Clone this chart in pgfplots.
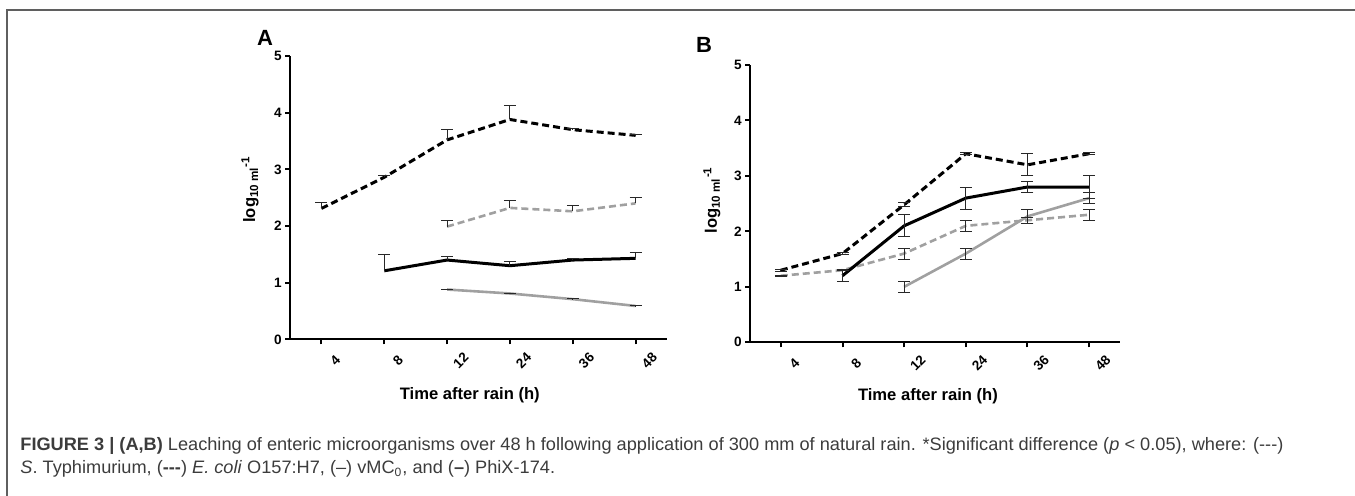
\documentclass[border=0pt]{standalone}
\usepackage{fontspec}
\setmainfont{Liberation Sans}
\usepackage{graphicx}
\usepackage{pgfplots}
\pgfplotsset{compat=1.18}
\definecolor{lgray}{RGB}{160,160,160}
\definecolor{capcol}{RGB}{60,60,60}
\definecolor{framecol}{RGB}{95,95,95}
\definecolor{ebcol}{RGB}{40,40,40}
\newcommand\capfont{\fontsize{9}{10}\selectfont}
\newcommand\lineone{\textbf{FIGURE 3 | (A,B)} Leaching of enteric microorganisms over 48 h following application of 300 mm of natural rain. *Significant difference (\textit{p} < 0.05), where: (-{}-{}-)}
\newcommand\linetwo{\textit{S}. Typhimurium, (\textbf{-{}-{}-}) \textit{E. coli} O157:H7, (--) vMC\textsubscript{0}, and (\textbf{--}) PhiX-174.}
\newlength\capw
\pgfplotsset{
  panel/.style={
    scale only axis,
    axis x line=bottom, axis y line=left,
    axis line style={-, line width=1pt},
    xmin=-0.5, xmax=5.5, ymin=0, ymax=5,
    xtick={0,1,2,3,4,5}, xticklabels={4,8,12,24,36,48},
    ytick={0,1,2,3,4,5},
    tick align=outside, major tick length=2.5pt,
    tick style={line width=1pt, black},
    ticklabel style={font=\bfseries\fontsize{6.8}{7}\selectfont},
    yticklabel style={inner sep=1.5pt},
    /pgf/number format/assume math mode=true,
    xticklabel style={rotate=45, anchor=center, yshift=-10.5pt, xshift=-0.8pt},
    label style={font=\bfseries\fontsize{8.3}{9}\selectfont},
    xlabel={Time after rain (h)},
    ylabel={log\textsubscript{10 ml}\textsuperscript{-1}},
    clip=false,
  },
  bk/.style={black, line width=1.5pt, mark=none},
  bkd/.style={black, line width=1.5pt, mark=none, dash pattern=on 3.5pt off 2pt},
  gy/.style={lgray, line width=1.3pt, mark=none},
  gyd/.style={lgray, line width=1.3pt, mark=none, dash pattern=on 3.5pt off 2pt},
  ebA/.style={error bars/.cd, y dir=plus, y explicit,
    error bar style={line width=0.5pt, ebcol, solid},
    error mark options={rotate=90, mark size=3pt, line width=0.5pt, ebcol, solid}},
  ebB/.style={error bars/.cd, y dir=both, y explicit,
    error bar style={line width=0.5pt, ebcol, solid},
    error mark options={rotate=90, mark size=3pt, line width=0.5pt, ebcol, solid}},
}
\begin{document}%
\settowidth{\capw}{\capfont\lineone}%
\pgfmathsetmacro\capsx{631.5/\capw}%
\begin{tikzpicture}
\useasboundingbox (0,0) rectangle (677.5pt,248pt);
\draw[framecol, line width=1pt] (3.5pt,0pt) -- (3.5pt,243pt) -- (677.5pt,243pt);
\node[font=\bfseries\fontsize{11}{12}\selectfont] at (132.5pt,229.15pt) {A};
\node[font=\bfseries\fontsize{11}{12}\selectfont] at (352pt,225.5pt) {B};
\node[anchor=base west, inner sep=0pt, text=capcol] at (10pt,22.5pt) {\capfont\scalebox{\capsx}[1]{\lineone}};
\node[anchor=base west, inner sep=0pt, text=capcol] at (10pt,11pt) {\capfont\scalebox{\capsx}[1]{\linetwo}};

\begin{axis}[panel, at={(145pt,78.3pt)}, anchor=south west, width=188.5pt, height=141.7pt,
  xlabel style={at={(axis description cs:0.477,-0.196)}, anchor=center},
  ylabel style={at={(axis description cs:-0.106,0.53)}, anchor=center}]
\addplot[gy, ebA] coordinates {(2,0.88) +- (0,0.005) (3,0.81) +- (0,0.005) (4,0.71) +- (0,0.005) (5,0.59) +- (0,0.005)};
\addplot[gyd, ebA] coordinates {(2,1.99) +- (0,0.10) (3,2.32) +- (0,0.13) (4,2.26) +- (0,0.10) (5,2.40) +- (0,0.11)};
\addplot[bk, ebA] coordinates {(1,1.21) +- (0,0.29) (2,1.40) +- (0,0.06) (3,1.30) +- (0,0.07) (4,1.40) +- (0,0.02) (5,1.43) +- (0,0.10)};
\addplot[bkd, ebA] coordinates {(0,2.31) +- (0,0.11) (1,2.86) +- (0,0.04) (2,3.52) +- (0,0.19) (3,3.88) +- (0,0.24) (4,3.70) +- (0,0.02) (5,3.60) +- (0,0.01)};
\end{axis}

\begin{axis}[panel, at={(375pt,76.85pt)}, anchor=south west, width=185pt, height=138.65pt,
  xlabel style={at={(axis description cs:0.481,-0.196)}, anchor=center},
  ylabel style={at={(axis description cs:-0.103,0.513)}, anchor=center}]
\addplot[gy, ebB] coordinates {(2,1.00) +- (0,0.10) (3,1.60) +- (0,0.10) (4,2.27) +- (0,0.12) (5,2.60) +- (0,0.10)};
\addplot[gyd, ebB] coordinates {(0,1.20) +- (0,0.01) (1,1.30) +- (0,0.01) (2,1.60) +- (0,0.10) (3,2.10) +- (0,0.10) (4,2.20) +- (0,0.05) (5,2.30) +- (0,0.10)};
\addplot[bk, ebB] coordinates {(1,1.20) +- (0,0.10) (2,2.10) +- (0,0.20) (3,2.60) +- (0,0.20) (4,2.80) +- (0,0.10) (5,2.80) +- (0,0.20)};
\addplot[bkd, ebB] coordinates {(0,1.30) +- (0,0.02) (1,1.60) +- (0,0.02) (2,2.48) +- (0,0.04) (3,3.40) +- (0,0.02) (4,3.20) +- (0,0.20) (5,3.40) +- (0,0.02)};
\end{axis}
\end{tikzpicture}%
\end{document}
